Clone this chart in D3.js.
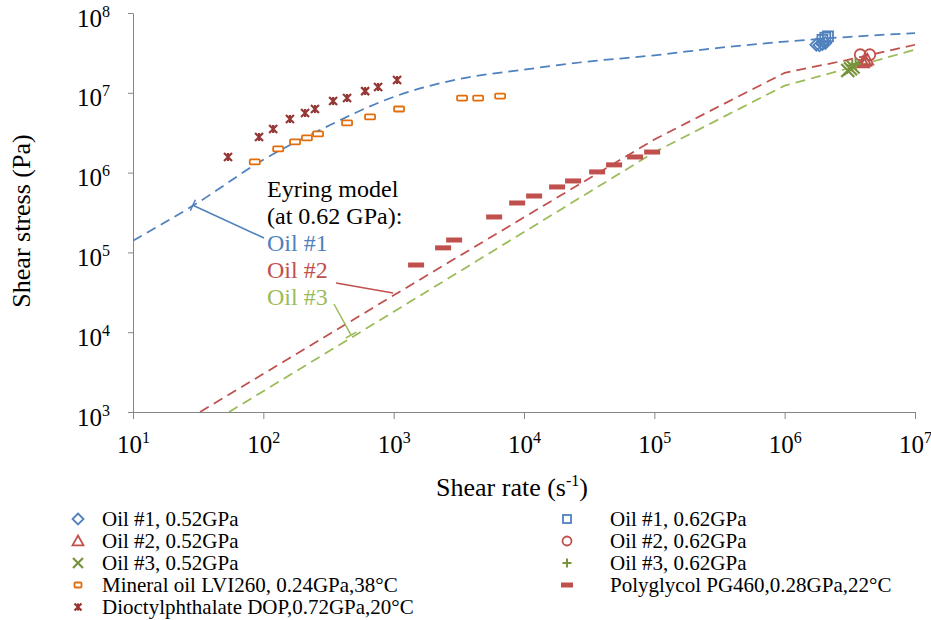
<!DOCTYPE html>
<html>
<head>
<meta charset="utf-8">
<script src="https://cdn.jsdelivr.net/npm/d3@7/dist/d3.min.js"></script>
<style>
  html, body { margin: 0; padding: 0; background: #fff; }
  svg { display: block; font-family: "Liberation Serif", "Times New Roman", serif; }
</style>
</head>
<body>
<svg id="chart" width="931" height="620"></svg>
<script>
// ---- Axis ticks ----
const xTickExps = [1, 2, 3, 4, 5, 6, 7];
const yTickExps = [3, 4, 5, 6, 7, 8];

// ---- Eyring model curves (at 0.62 GPa) ----
const eyringRate1   = [10, 30, 100, 300, 1000, 3000, 1e4, 3e4, 1e5, 3e5, 1e6, 3e6, 1e7];
const eyringStress1 = [1.4e5, 4.0e5, 1.45e6, 3.7e6, 8.9e6, 1.46e7, 1.95e7, 2.45e7, 2.95e7, 3.63e7, 4.37e7, 5.0e7, 5.6e7];

const eyringRate2   = [32.7, 1000, 1e4, 1e5, 1e6, 3e6, 1e7];
const eyringStress2 = [1e3, 2.9e4, 2.75e5, 2.6e6, 1.78e7, 2.57e7, 4.0e7];

const eyringRate3   = [54.6, 1000, 1e4, 1e5, 1e6, 3e6, 1e7];
const eyringStress3 = [1e3, 1.8e4, 1.8e5, 1.8e6, 1.23e7, 2.0e7, 3.47e7];

// ---- Measured points ----
const oil1Rate052   = [1.75e6, 1.85e6, 1.95e6, 2.05e6];
const oil1Stress052 = [4.0e7, 3.95e7, 4.1e7, 4.2e7];
const oil1Rate062   = [1.95e6, 2.05e6, 2.15e6];
const oil1Stress062 = [4.6e7, 4.9e7, 5.1e7];

const oil2Rate052   = [4.0e6, 4.15e6, 4.3e6];
const oil2Stress052 = [2.4e7, 2.5e7, 2.6e7];
const oil2Rate062   = [3.8e6, 4.5e6];
const oil2Stress062 = [3.0e7, 3.0e7];

const oil3Rate052   = [3.05e6, 3.2e6, 3.35e6];
const oil3Stress052 = [1.9e7, 2.0e7, 2.1e7];
const oil3Rate062   = [3.3e6, 3.5e6];
const oil3Stress062 = [2.2e7, 2.3e7];

const lviRate   = [86, 130, 175, 216, 263, 439, 659, 1100, 3350, 4450, 6560];
const lviStress = [1.36e6, 1.98e6, 2.42e6, 2.72e6, 3.05e6, 4.19e6, 4.98e6, 6.27e6, 8.6e6, 8.6e6, 9.1e6];

const dopRate   = [53.6, 92.7, 119, 160, 209, 249, 343, 439, 604, 759, 1062];
const dopStress = [1.57e6, 2.79e6, 3.52e6, 4.70e6, 5.59e6, 6.27e6, 7.89e6, 8.6e6, 1.05e7, 1.18e7, 1.45e7];

const pgRate   = [1486, 2394, 2910, 5900, 8860, 11960, 17950, 23800, 36400, 49100, 71200, 96200];
const pgStress = [6.95e4, 1.14e5, 1.43e5, 2.78e5, 4.16e5, 5.09e5, 6.61e5, 7.86e5, 1.02e6, 1.25e6, 1.57e6, 1.81e6];

// ---- Legend entries ----
const legendLeft  = ["Oil #1, 0.52GPa", "Oil #2, 0.52GPa", "Oil #3, 0.52GPa",
                     "Mineral oil LVI260, 0.24GPa,38°C", "Dioctylphthalate DOP,0.72GPa,20°C"];
const legendRight = ["Oil #1, 0.62GPa", "Oil #2, 0.62GPa", "Oil #3, 0.62GPa",
                     "Polyglycol PG460,0.28GPa,22°C"];

// ---- Annotation ----
const noteLines = ["Eyring model", "(at 0.62 GPa):"];
const noteOils  = ["Oil #1", "Oil #2", "Oil #3"];
// point on each model curve that the leader line touches
const leaderRate   = [28.8, 990, 471];
const leaderStress = [3.9e5, 3.1e4, 9.2e3];

// ---- Colours ----
const BLUE = "#4f81bd", RED = "#c0504d", GREEN = "#9bbb59", OLIVE = "#77933c",
      ORANGE = "#e46c0a", DARKRED = "#953735", AXIS = "#868686";

const svg = d3.select("#chart");
const x = d3.scaleLog().domain([1e1, 1e7]).range([133, 915]);
const y = d3.scaleLog().domain([1e3, 1e8]).range([412, 13]);

const zip = (a, b) => a.map((v, i) => [v, b[i]]);

// ---- Axes ----
function supLabel(sel, base, exp, supSize) {
  sel.text(null);
  sel.append("tspan").text(base);
  sel.append("tspan").attr("font-size", supSize).attr("dy", -10).text(exp);
}

const xAxis = svg.append("g").attr("transform", "translate(0,412)")
  .call(d3.axisBottom(x).tickValues(xTickExps.map(e => Math.pow(10, e)))
    .tickSize(7).tickSizeOuter(0).tickFormat(""));
xAxis.select(".domain").attr("stroke", AXIS);
xAxis.selectAll(".tick line").attr("stroke", AXIS);
xAxis.selectAll(".tick text").each(function(d) {
  const t = d3.select(this).attr("y", 41).attr("dy", 0)
    .attr("font-size", 25).attr("fill", "#000").attr("font-family", "Liberation Serif");
  supLabel(t, "10", Math.round(Math.log10(d)), 16);
});

const yAxis = svg.append("g").attr("transform", "translate(133,0)")
  .call(d3.axisLeft(y).tickValues(yTickExps.map(e => Math.pow(10, e)))
    .tickSize(5).tickSizeOuter(0).tickFormat(""));
yAxis.select(".domain").attr("stroke", AXIS);
yAxis.selectAll(".tick line").attr("stroke", AXIS);
yAxis.selectAll(".tick text").each(function(d) {
  const t = d3.select(this).attr("x", -23).attr("dy", 0).attr("y", 13)
    .attr("font-size", 25).attr("fill", "#000").attr("font-family", "Liberation Serif")
    .attr("text-anchor", "end");
  supLabel(t, "10", Math.round(Math.log10(d)), 16);
});

// axis titles
const xTitle = svg.append("text").attr("x", 512).attr("y", 496)
  .attr("text-anchor", "middle").attr("font-size", 26);
xTitle.append("tspan").text("Shear rate (s");
xTitle.append("tspan").attr("font-size", 16).attr("dy", -10).text("-1");
xTitle.append("tspan").attr("dy", 10).text(")");

svg.append("text").attr("transform", "translate(30,221) rotate(-90)")
  .attr("text-anchor", "middle").attr("font-size", 26).text("Shear stress (Pa)");

// ---- Plot area ----
svg.append("clipPath").attr("id", "plotClip")
  .append("rect").attr("x", 133).attr("y", 0).attr("width", 790).attr("height", 412);
const plot = svg.append("g").attr("clip-path", "url(#plotClip)");

const smooth = d3.line().x(d => x(d[0])).y(d => y(d[1])).curve(d3.curveMonotoneX);
const straight = d3.line().x(d => x(d[0])).y(d => y(d[1])).curve(d3.curveLinear);
[[eyringRate1, eyringStress1, BLUE, smooth],
 [eyringRate2, eyringStress2, RED, straight],
 [eyringRate3, eyringStress3, GREEN, straight]].forEach(([r, s, c, gen]) => {
  plot.append("path").datum(zip(r, s)).attr("d", gen)
    .attr("fill", "none").attr("stroke", c).attr("stroke-width", 1.75)
    .attr("stroke-dasharray", "10,6");
});

// ---- Marker shapes ----
const markers = {
  diamond: (g, s, c) => g.append("path")
      .attr("d", `M0,${-s}L${s},0L0,${s}L${-s},0Z`)
      .attr("fill", "none").attr("stroke", c).attr("stroke-width", 1.8),
  square: (g, s, c) => g.append("rect").attr("x", -s).attr("y", -s)
      .attr("width", 2 * s).attr("height", 2 * s)
      .attr("fill", "none").attr("stroke", c).attr("stroke-width", 1.8),
  triangle: (g, s, c) => g.append("path")
      .attr("d", `M0,${-s}L${s},${s * 0.8}L${-s},${s * 0.8}Z`)
      .attr("fill", "none").attr("stroke", c).attr("stroke-width", 1.8),
  circle: (g, s, c) => g.append("circle").attr("r", s)
      .attr("fill", "none").attr("stroke", c).attr("stroke-width", 1.8),
  cross: (g, s, c) => g.append("path")
      .attr("d", `M${-s},${-s}L${s},${s}M${-s},${s}L${s},${-s}`)
      .attr("fill", "none").attr("stroke", c).attr("stroke-width", 2.2),
  plus: (g, s, c) => g.append("path")
      .attr("d", `M${-s},0L${s},0M0,${-s}L0,${s}`)
      .attr("fill", "none").attr("stroke", c).attr("stroke-width", 2),
  dashHollow: (g, s, c) => g.append("rect").attr("x", -s).attr("y", -2.5)
      .attr("width", 2 * s).attr("height", 5).attr("rx", 1)
      .attr("fill", "#fff").attr("stroke", c).attr("stroke-width", 1.8),
  star: (g, s, c) => g.append("path")
      .attr("d", `M${-s},${-s}L${s},${s}M${-s},${s}L${s},${-s}M0,${-s}L0,${s}`)
      .attr("fill", "none").attr("stroke", c).attr("stroke-width", 2.2),
  dashSolid: (g, s, c) => g.append("rect").attr("x", -s).attr("y", -2.5)
      .attr("width", 2 * s).attr("height", 5).attr("fill", c)
};

function drawSeries(rates, stresses, shape, size, color) {
  const g = plot.append("g");
  zip(rates, stresses).forEach(([r, s]) => {
    const m = g.append("g").attr("transform", `translate(${x(r)},${y(s)})`);
    markers[shape](m, size, color);
  });
}

drawSeries(lviRate, lviStress, "dashHollow", 5, ORANGE);
drawSeries(dopRate, dopStress, "star", 4, DARKRED);
drawSeries(pgRate, pgStress, "dashSolid", 8, RED);
drawSeries(oil1Rate052, oil1Stress052, "diamond", 6, BLUE);
drawSeries(oil1Rate062, oil1Stress062, "square", 5, BLUE);
drawSeries(oil2Rate052, oil2Stress052, "triangle", 6, RED);
drawSeries(oil2Rate062, oil2Stress062, "circle", 5.5, RED);
drawSeries(oil3Rate052, oil3Stress052, "cross", 6.5, OLIVE);
drawSeries(oil3Rate062, oil3Stress062, "plus", 6, OLIVE);

// ---- Annotation with leader lines ----
const note = svg.append("g").attr("font-size", 24);
noteLines.forEach((t, i) => note.append("text").attr("x", 267).attr("y", 197 + i * 27).text(t));
const oilColors = [BLUE, RED, GREEN];
noteOils.forEach((t, i) => note.append("text").attr("x", 267).attr("y", 251 + i * 27)
  .attr("fill", oilColors[i]).text(t));

const leaderStart = [[264, 238], [336, 283], [334, 304]];
leaderStart.forEach(([sx, sy], i) => {
  const ex = x(leaderRate[i]), ey = y(leaderStress[i]);
  note.append("line").attr("x1", sx).attr("y1", sy).attr("x2", ex).attr("y2", ey)
    .attr("stroke", oilColors[i]).attr("stroke-width", 1.5);
  if (i !== 1) {
    const dx = ex - sx, dy = ey - sy, len = Math.hypot(dx, dy);
    const px = -dy / len * 6, py = dx / len * 6;
    note.append("line").attr("x1", ex - px).attr("y1", ey - py)
      .attr("x2", ex + px).attr("y2", ey + py)
      .attr("stroke", oilColors[i]).attr("stroke-width", 1.5);
  }
});

// ---- Legend ----
const leftShapes  = [["diamond", 5.5, BLUE], ["triangle", 5.5, RED], ["cross", 5, OLIVE],
                     ["dashHollow", 3.5, ORANGE], ["star", 3.5, DARKRED]];
const rightShapes = [["square", 4, BLUE], ["circle", 4.5, RED], ["plus", 4.5, OLIVE],
                     ["dashSolid", 6, RED]];
const legend = svg.append("g").attr("font-size", 21);
function legendColumn(labels, shapes, mx, tx) {
  labels.forEach((t, i) => {
    const cy = 519 + i * 22;
    const m = legend.append("g").attr("transform", `translate(${mx},${cy})`);
    markers[shapes[i][0]](m, shapes[i][1], shapes[i][2]);
    legend.append("text").attr("x", tx).attr("y", cy + 7).text(t);
  });
}
legendColumn(legendLeft, leftShapes, 78, 102);
legendColumn(legendRight, rightShapes, 567, 610);
</script>
</body>
</html>
